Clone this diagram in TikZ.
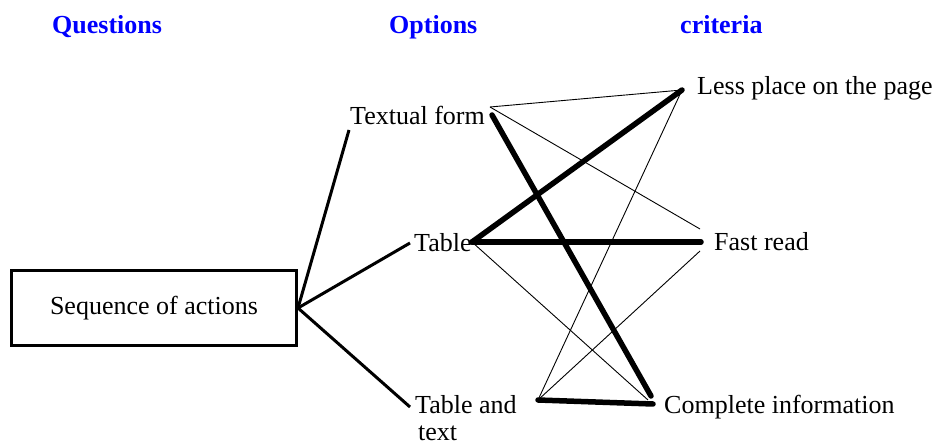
\documentclass[tikz,border=0pt]{standalone}
\usepackage{fontspec}
\setmainfont{Liberation Serif}
\definecolor{hblue}{RGB}{0,0,255}
\begin{document}
\begin{tikzpicture}[x=1pt,y=-1pt,
  lbl/.style={inner sep=0pt, anchor=base west, font=\fontsize{26}{27}\selectfont},
  hdr/.style={inner sep=0pt, anchor=base west, font=\fontsize{26}{27}\selectfont\bfseries, text=hblue},
  fan/.style={line width=3pt},
  strong/.style={line width=5.5pt, line cap=round},
  weak/.style={line width=0.9pt}]
\useasboundingbox (0,0) rectangle (939,443);
% headers
\node[hdr] (hq) at (52,34) {Questions};
\node[hdr] (ho) at (389,34) {Options};
\node[hdr] (hc) at (680,34) {criteria};
% question box
\node[draw, line width=3pt, minimum width=285, minimum height=75, inner sep=0pt,
      font=\fontsize{26}{27}\selectfont] (seq) at (154,308) {Sequence of actions};
% option labels
\node[lbl] (ltf) at (350,125) {Textual form};
\node[lbl] (ltb) at (414,252) {Table};
\node[lbl] (ltt1) at (415,413) {Table and};
\node[lbl] (ltt2) at (418,440) {text};
% criteria labels
\node[lbl] (llp) at (697,95) {Less place on the page};
\node[lbl] (lfr) at (714,251) {Fast read};
\node[lbl] (lci) at (664,413) {Complete information};
% fan end points
\coordinate (ftf) at (349,130);
\coordinate (ftb) at (410,243);
\coordinate (ftt) at (410,407);
\draw[fan] (seq.east) -- (ftf);
\draw[fan] (seq.east) -- (ftb);
\draw[fan] (seq.east) -- (ftt);
% option points
\coordinate (tfa) at (490,107);
\coordinate (tfb) at (492,115);
\coordinate (tb) at (472,242);
\coordinate (tt) at (538,400);
% criteria points
\coordinate (lp) at (682,90);
\coordinate (fr) at (701,242);
\coordinate (frup) at (700,229);
\coordinate (frdn) at (700,251);
\coordinate (ci) at (653,404);
\coordinate (cit) at (651,396);
\coordinate (cib) at (648,400);
% thin links
\draw[weak] (tfa) -- (lp);
\draw[weak] (tfa) -- (frup);
\draw[weak] (tb) -- (cib);
\draw[weak] (tt) -- (lp);
\draw[weak] (tt) -- (frdn);
% strong links
\draw[strong] (tfb) -- (cit);
\draw[strong] (tb) -- (lp);
\draw[strong] (tb) -- (fr);
\draw[strong] (tt) -- (ci);
\end{tikzpicture}
\end{document}
